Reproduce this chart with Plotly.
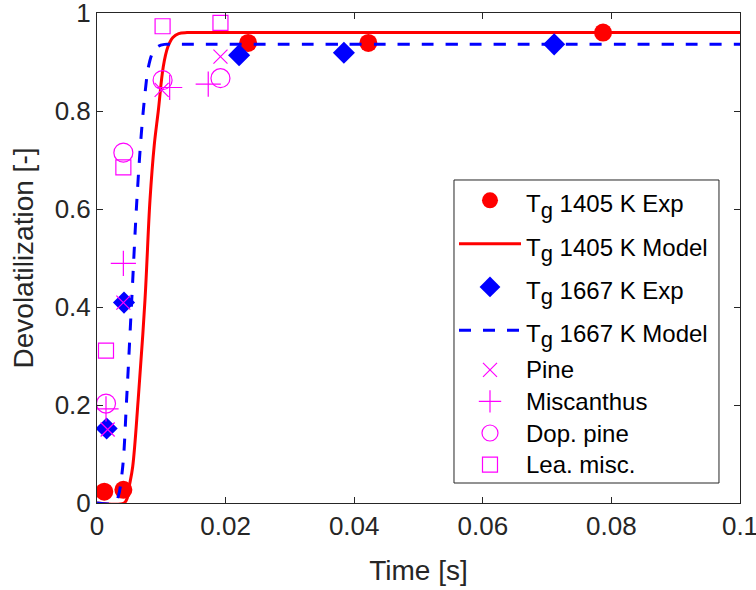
import plotly.graph_objects as go

# ---- data ----
time_1405_exp = [0.00113, 0.0041, 0.0235, 0.0422, 0.0787]
dev_1405_exp = [0.023, 0.027, 0.939, 0.939, 0.960]

time_1405_model = [0.0, 0.0042, 0.0047, 0.0050, 0.00555, 0.0064, 0.00746, 0.00824,
                   0.0089, 0.00953, 0.0103, 0.0110, 0.0118, 0.0127, 0.0140, 0.0160, 0.1]
dev_1405_model = [0.0, 0.0, 0.010, 0.033, 0.074, 0.210, 0.414, 0.618,
                  0.730, 0.800, 0.890, 0.930, 0.950, 0.958, 0.960, 0.960, 0.960]

time_1667_exp = [0.0015, 0.0042, 0.0221, 0.0384, 0.0711]
dev_1667_exp = [0.152, 0.409, 0.914, 0.919, 0.936]

time_1667_model = [0.0, 0.0028, 0.0033, 0.0040, 0.0046, 0.0054, 0.0062, 0.0069,
                   0.0075, 0.0080, 0.0087, 0.0095, 0.0105, 0.0120, 0.1]
dev_1667_model = [0.0, 0.0, 0.013, 0.074, 0.210, 0.414, 0.618, 0.755,
                  0.840, 0.890, 0.920, 0.932, 0.936, 0.936, 0.936]

time_pine = [0.00166, 0.0041, 0.01005, 0.0192]
dev_pine = [0.150, 0.409, 0.843, 0.911]

time_misc = [0.0014, 0.0041, 0.0113, 0.0173]
dev_misc = [0.192, 0.489, 0.848, 0.855]

time_dop = [0.0014, 0.0041, 0.0102, 0.0192]
dev_dop = [0.203, 0.715, 0.863, 0.867]

time_lea = [0.0014, 0.0041, 0.0102, 0.0192]
dev_lea = [0.311, 0.685, 0.973, 0.980]

x_ticks = [0, 0.02, 0.04, 0.06, 0.08, 0.1]
x_ticklabels = ["0", "0.02", "0.04", "0.06", "0.08", "0.1"]
y_ticks = [0, 0.2, 0.4, 0.6, 0.8, 1]
y_ticklabels = ["0", "0.2", "0.4", "0.6", "0.8", "1"]

MAG = "#FF00FF"
FONT = "Liberation Sans, Arial, Helvetica, sans-serif"
AX = "#262626"


def tg_label(rest):
    return ('<span style="font-size:24px">T<sub><span style="font-size:22px">g</span></sub> '
            + rest + '</span>')


def plain_label(text):
    return '<span style="font-size:24px">' + text + '</span>'


fig = go.Figure()

fig.add_trace(go.Scatter(x=time_1405_exp, y=dev_1405_exp, mode="markers",
                         name=tg_label("1405 K Exp"), legend="legend",
                         marker=dict(symbol="circle", size=18, color="#FF0000")))
fig.add_trace(go.Scatter(x=time_1405_model, y=dev_1405_model, mode="lines",
                         name=tg_label("1405 K Model"), legend="legend",
                         line_shape="spline",
                         line=dict(color="#FF0000", width=3)))
fig.add_trace(go.Scatter(x=time_1667_exp, y=dev_1667_exp, mode="markers",
                         name=tg_label("1667 K Exp"), legend="legend",
                         marker=dict(symbol="diamond", size=17, color="#0000FF")))
fig.add_trace(go.Scatter(x=time_1667_model, y=dev_1667_model, mode="lines",
                         name=tg_label("1667 K Model"), legend="legend",
                         line_shape="spline",
                         line=dict(color="#0000FF", width=3, dash="12px,12px")))
fig.add_trace(go.Scatter(x=time_pine, y=dev_pine, mode="markers",
                         name=plain_label("Pine"), legend="legend2",
                         marker=dict(symbol="x-thin-open", size=14,
                                     line=dict(color=MAG, width=1.2), color=MAG)))
fig.add_trace(go.Scatter(x=time_misc, y=dev_misc, mode="markers",
                         name=plain_label("Miscanthus"), legend="legend2",
                         marker=dict(symbol="cross-thin-open", size=18,
                                     line=dict(color=MAG, width=1.2), color=MAG)))
fig.add_trace(go.Scatter(x=time_dop, y=dev_dop, mode="markers",
                         name=plain_label("Dop. pine"), legend="legend2",
                         marker=dict(symbol="circle-open", size=19,
                                     line=dict(color=MAG, width=1.2), color=MAG)))
fig.add_trace(go.Scatter(x=time_lea, y=dev_lea, mode="markers",
                         name=plain_label("Lea. misc."), legend="legend2",
                         marker=dict(symbol="square-open", size=15,
                                     line=dict(color=MAG, width=1.2), color=MAG)))

axis_common = dict(showgrid=False, zeroline=False, showline=True, linecolor=AX,
                   linewidth=1, mirror="ticks", ticks="inside", ticklen=6,
                   tickcolor=AX, automargin=False, ticklabeloverflow="allow",
                   tickfont=dict(family=FONT, size=26, color=AX))

fig.update_xaxes(range=[0, 0.1], tickvals=x_ticks, ticktext=x_ticklabels,
                 title=dict(text="Time [s]", font=dict(family=FONT, size=28, color=AX),
                            standoff=20),
                 **axis_common)
fig.update_yaxes(range=[0, 1], tickvals=y_ticks, ticktext=y_ticklabels,
                 title=dict(text="Devolatilization [-]",
                            font=dict(family=FONT, size=28, color=AX), standoff=12),
                 **axis_common)

# legend frame (one box around both legend groups)
fig.add_shape(type="rect", xref="paper", yref="paper",
              x0=0.5552, x1=0.9673, y0=0.0408, y1=0.6592,
              line=dict(color=AX, width=1), fillcolor="white", layer="above")

fig.update_layout(
    width=756, height=590,
    margin=dict(l=97, r=16, t=13, b=87),
    plot_bgcolor="white", paper_bgcolor="white",
    font=dict(family=FONT, color="#000000"),
    legend=dict(x=0.5552, y=0.672, xanchor="left", yanchor="top",
                bgcolor="rgba(0,0,0,0)", borderwidth=0,
                font=dict(family=FONT, size=31, color="#000000"),
                tracegroupgap=0, itemwidth=62),
    legend2=dict(x=0.5552, y=(503 - 349) / 490, xanchor="left", yanchor="top",
                 bgcolor="rgba(0,0,0,0)", borderwidth=0,
                 font=dict(family=FONT, size=22, color="#000000"),
                 tracegroupgap=0, itemwidth=62),
    showlegend=True,
)

fig.write_html("out.html", config={"displayModeBar": False},
               post_script="document.body.style.margin='0';document.body.style.overflow='hidden';")
